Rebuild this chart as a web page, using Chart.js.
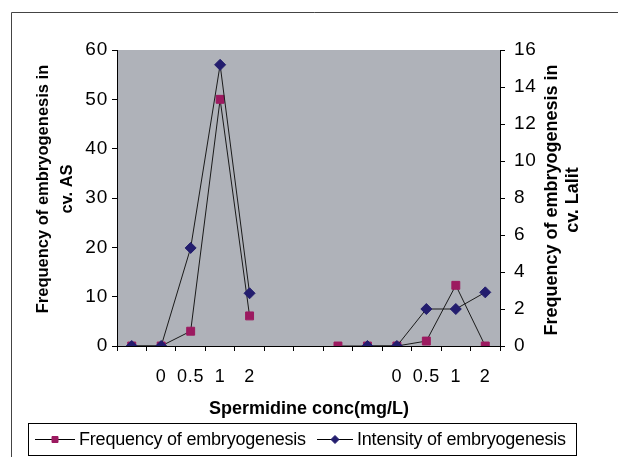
<!DOCTYPE html>
<html>
<head>
<meta charset="utf-8">
<script src="https://cdn.jsdelivr.net/npm/chart.js@4.4.1/dist/chart.umd.min.js"></script>
<style>
  html, body { margin: 0; padding: 0; background: #fff; }
</style>
</head>
<body>
<canvas id="canvas" width="618" height="457"></canvas>
<script>
// spermidine concentrations, cv. AS on the left group, cv. Lalit on the right
let labels = ['', '0', '0.5', '1', '2', '', '', '', '', '0', '0.5', '1', '2'];

// (frequency on left axis, intensity on right axis)
let frequency = [0, 0, 3, 50, 6.1, null, null, 0, 0, 0, 1, 12.3, 0];
let intensity = [0, 0, 5.3, 15.2, 2.85, null, null, null, 0, 0, 2, 2, 2.9];

// axis ranges
let leftRange = [0, 60, 10];
let rightRange = [0, 16, 2];

let font = 'Liberation Sans';

// gray plot background, outer frame, titles and the boxed legend
let decor = {
  id: 'decor',
  beforeDraw(chart) {
    let ctx = chart.ctx;
    let a = chart.chartArea;
    ctx.save();
    ctx.fillStyle = '#fff';
    ctx.fillRect(0, 0, chart.width, chart.height);
    ctx.fillStyle = '#afb2b9';
    ctx.fillRect(a.left, a.top, a.right - a.left, a.bottom - a.top);
    ctx.strokeStyle = '#444';
    ctx.lineWidth = 1;
    ctx.beginPath();
    ctx.moveTo(11.5, chart.height);
    ctx.lineTo(11.5, 12.5);
    ctx.lineTo(chart.width, 12.5);
    ctx.stroke();
    ctx.restore();
    ctx.letterSpacing = '0.8px';
  },
  afterDraw(chart) {
    let ctx = chart.ctx;
    ctx.save();
    ctx.letterSpacing = '0px';
    ctx.fillStyle = '#000';
    ctx.textAlign = 'center';
    ctx.textBaseline = 'middle';

    // left title
    ctx.save();
    ctx.translate(43, 189);
    ctx.rotate(-Math.PI / 2);
    ctx.font = 'bold 16.5px ' + font;
    ctx.fillText('Frequency of embryogenesis in', 0, 0);
    ctx.fillText('cv. AS', 0, 24);
    ctx.restore();

    // right title
    ctx.save();
    ctx.translate(552, 200);
    ctx.rotate(-Math.PI / 2);
    ctx.font = 'bold 18px ' + font;
    ctx.fillText('Frequency of embryogenesis in', 0, 0);
    ctx.fillText('cv. Lalit', 0, 21);
    ctx.restore();

    // x title
    ctx.font = 'bold 18px ' + font;
    ctx.fillText('Spermidine conc(mg/L)', 309, 409);

    // legend box
    ctx.strokeStyle = '#000';
    ctx.lineWidth = 1;
    ctx.strokeRect(28.5, 423.5, 548, 32);

    let entries = [[35, 75, 79], [317, 353, 357]];
    ctx.font = '18px ' + font;
    ctx.letterSpacing = '-0.2px';
    ctx.textAlign = 'left';
    chart.data.datasets.forEach((ds, i) => {
      let e = entries[i];
      let y = 439.5;
      let cx = (e[0] + e[1]) / 2;
      ctx.strokeStyle = '#000';
      ctx.beginPath();
      ctx.moveTo(e[0], y);
      ctx.lineTo(e[1], y);
      ctx.stroke();
      ctx.fillStyle = ds.pointBackgroundColor;
      ctx.strokeStyle = ds.pointBorderColor;
      ctx.beginPath();
      if (ds.pointStyle === 'rect') {
        ctx.rect(cx - 3, y - 3, 6, 6);
      } else {
        ctx.moveTo(cx - 4, y); ctx.lineTo(cx, y - 4); ctx.lineTo(cx + 4, y); ctx.lineTo(cx, y + 4);
        ctx.closePath();
      }
      ctx.fill();
      ctx.stroke();
      ctx.fillStyle = '#000';
      ctx.fillText(ds.label, e[2], y + 1);
    });
    ctx.restore();
  }
};

let options = {
  type: 'line',
  data: {
    labels: labels,
    datasets: [{
      label: 'Frequency of embryogenesis',
      data: frequency,
      yAxisID: 'y',
      order: 1,
      borderColor: '#1a1a1a',
      borderWidth: 1,
      pointStyle: 'rect',
      pointRadius: 5.6,
      pointBackgroundColor: '#9c1a60',
      pointBorderColor: '#9c1a60',
      pointBorderWidth: 1,
      tension: 0
    }, {
      label: 'Intensity of embryogenesis',
      data: intensity,
      yAxisID: 'y1',
      order: 0,
      borderColor: '#1a1a1a',
      borderWidth: 1,
      pointStyle: 'rectRot',
      pointRadius: 5.5,
      pointBackgroundColor: '#231d6e',
      pointBorderColor: '#231d6e',
      pointBorderWidth: 1,
      tension: 0
    }]
  },
  options: {
    responsive: false,
    animation: false,
    devicePixelRatio: 1,
    layout: { padding: { top: 50, left: 0, right: 0, bottom: 0 } },
    plugins: {
      legend: { display: false },
      tooltip: { enabled: false }
    },
    scales: {
      x: {
        type: 'category',
        offset: true,
        grid: { offset: true, drawOnChartArea: false, tickLength: 5, color: '#000' },
        border: { color: '#000', width: 1 },
        ticks: {
          autoSkip: false, maxRotation: 0, padding: 15, color: '#000',
          font: { family: font, size: 18 }
        },
        afterFit: s => { s.height = 111; }
      },
      y: {
        position: 'left',
        min: leftRange[0], max: leftRange[1],
        grid: { drawOnChartArea: false, tickLength: 5, color: '#000' },
        border: { color: '#000', width: 1 },
        ticks: {
          stepSize: leftRange[2], padding: 4, color: '#000',
          font: { family: font, size: 19 }
        },
        afterFit: s => { s.width = 117; }
      },
      y1: {
        position: 'right',
        min: rightRange[0], max: rightRange[1],
        grid: { drawOnChartArea: false, tickLength: 5, color: '#000' },
        border: { color: '#000', width: 1 },
        ticks: {
          stepSize: rightRange[2], padding: 9, color: '#000',
          font: { family: font, size: 19 }
        },
        afterFit: s => { s.width = 118; }
      }
    }
  },
  plugins: [decor]
};

let chart = new Chart(document.getElementById('canvas'), options);
</script>
</body>
</html>
